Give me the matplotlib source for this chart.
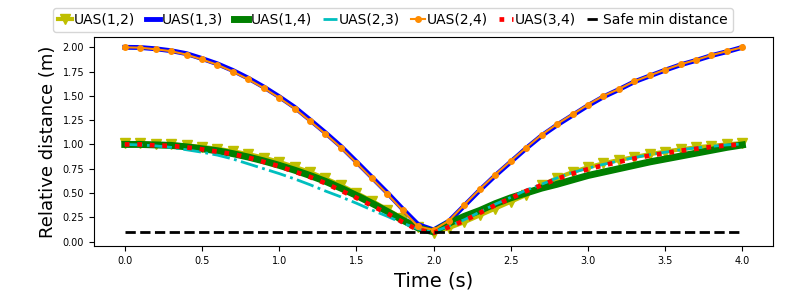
import numpy as np
import matplotlib
matplotlib.use('Agg')
import matplotlib.pyplot as plt

# time samples (s)
time = [round(0.1 * i, 1) for i in range(41)]

# relative distances (m)
uas_12 = [1.01, 1.01, 1.005, 1.0, 0.99, 0.975, 0.955, 0.93, 0.90, 0.865,
          0.82, 0.77, 0.715, 0.65, 0.58, 0.50, 0.42, 0.33, 0.24, 0.15,
          0.09,
          0.14, 0.20, 0.27, 0.34, 0.41, 0.48, 0.58, 0.655, 0.715, 0.765,
          0.805, 0.84, 0.87, 0.90, 0.925, 0.95, 0.97, 0.985, 1.0, 1.015]
uas_13 = [2.00, 1.998, 1.985, 1.965, 1.935, 1.885, 1.83, 1.762, 1.682, 1.592,
          1.492, 1.383, 1.253, 1.12, 0.98, 0.823, 0.663, 0.503, 0.335, 0.175,
          0.12,
          0.21, 0.37, 0.53, 0.68, 0.82, 0.96, 1.09, 1.20, 1.30, 1.40,
          1.49, 1.565, 1.645, 1.705, 1.765, 1.82, 1.865, 1.915, 1.955, 2.00]
uas_14 = [1.0, 1.0, 0.995, 0.99, 0.975, 0.955, 0.935, 0.905, 0.87, 0.83,
          0.785, 0.735, 0.68, 0.62, 0.55, 0.475, 0.395, 0.31, 0.22, 0.14,
          0.10,
          0.19, 0.26, 0.32, 0.39, 0.45, 0.50, 0.55, 0.59, 0.635, 0.68,
          0.715, 0.75, 0.785, 0.82, 0.85, 0.88, 0.91, 0.94, 0.97, 0.995]
uas_23 = [1.0, 0.995, 0.985, 0.97, 0.945, 0.92, 0.89, 0.85, 0.80, 0.75,
          0.70, 0.645, 0.585, 0.52, 0.46, 0.395, 0.325, 0.26, 0.19, 0.13,
          0.10,
          0.16, 0.225, 0.305, 0.385, 0.455, 0.53, 0.59, 0.655, 0.71, 0.755,
          0.795, 0.83, 0.865, 0.895, 0.92, 0.945, 0.965, 0.98, 0.995, 1.005]
uas_24 = [2.00, 1.996, 1.98, 1.96, 1.925, 1.875, 1.82, 1.75, 1.67, 1.58,
          1.48, 1.37, 1.24, 1.108, 0.967, 0.81, 0.65, 0.49, 0.32, 0.155,
          0.12,
          0.216, 0.38, 0.54, 0.69, 0.83, 0.967, 1.10, 1.21, 1.31, 1.41,
          1.50, 1.57, 1.65, 1.71, 1.77, 1.825, 1.87, 1.92, 1.96, 2.00]
uas_34 = [1.0, 1.0, 0.99, 0.985, 0.97, 0.95, 0.925, 0.90, 0.865, 0.82,
          0.775, 0.72, 0.665, 0.60, 0.525, 0.45, 0.37, 0.29, 0.20, 0.12,
          0.09,
          0.15, 0.215, 0.295, 0.375, 0.445, 0.52, 0.58, 0.645, 0.70, 0.745,
          0.785, 0.82, 0.855, 0.885, 0.91, 0.935, 0.955, 0.975, 0.99, 1.00]
safe_min = [0.1] * len(time)

fig = plt.figure(figsize=(7.89, 2.9), dpi=100)
ax = fig.add_axes([0.119, 0.152, 0.861, 0.72])

ax.plot(time, uas_12, color='y', marker='v', markersize=7, linewidth=3, label='UAS(1,2)')
ax.plot(time, uas_13, color='b', linewidth=3.5, label='UAS(1,3)')
ax.plot(time, uas_14, color='g', linewidth=5, label='UAS(1,4)')
ax.plot(time, uas_23, color='c', linestyle='-.', linewidth=2, label='UAS(2,3)')
ax.plot(time, uas_24, color='#ff8c00', marker='o', markersize=4, linewidth=1.5, label='UAS(2,4)')
ax.plot(time, uas_34, color='r', linestyle=':', linewidth=3.4, label='UAS(3,4)')
ax.plot(time, safe_min, color='k', linestyle='--', linewidth=2, label='Safe min distance')

ax.set_ylim(-0.045, 2.105)
ax.tick_params(labelsize=7)
ax.set_xlabel('Time (s)', fontsize=14)
ax.set_ylabel('Relative distance (m)', fontsize=13)

fig.legend(loc='upper center', bbox_to_anchor=(0.498, 0.995), ncol=7, fontsize=10,
           handlelength=1.0, handletextpad=0.15, columnspacing=0.8,
           borderpad=0.35)

fig.savefig('out.png', dpi=100)
